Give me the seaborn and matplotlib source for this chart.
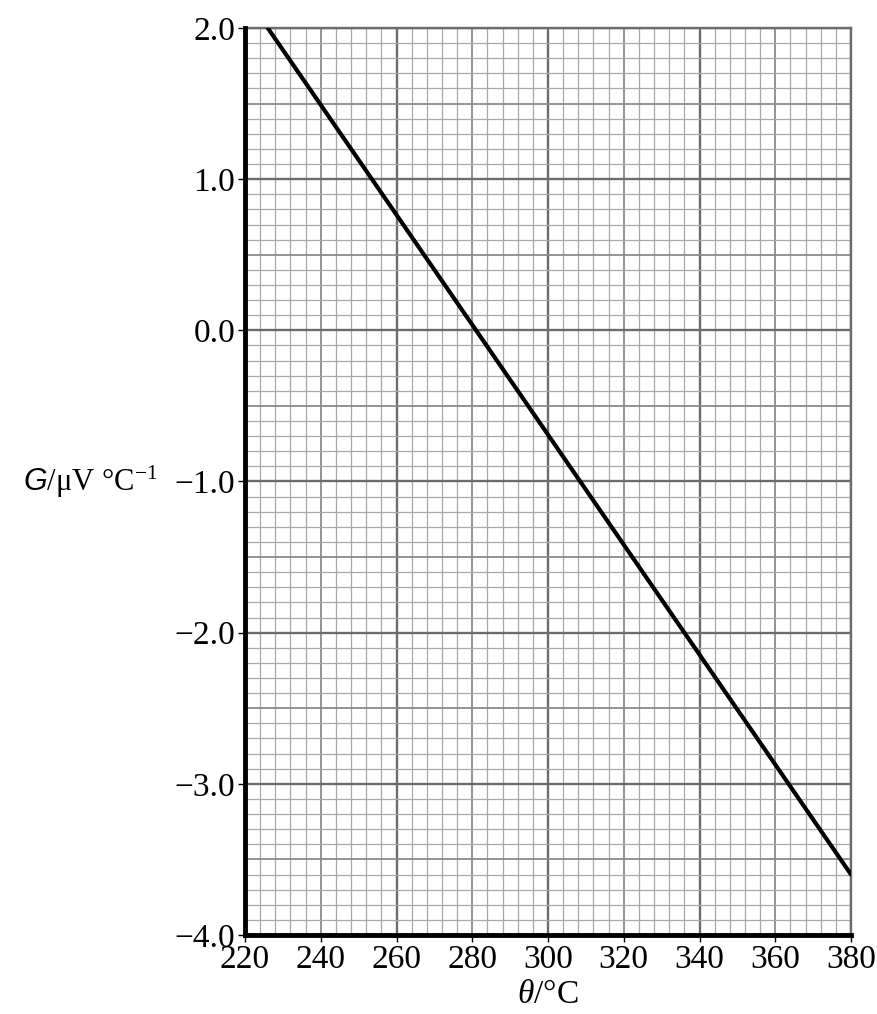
import numpy as np
import pandas as pd
import seaborn as sns
import matplotlib.pyplot as plt
from matplotlib.ticker import FuncFormatter

# Data (straight line)
theta = [226, 380]
G = [2.0, -3.6]

x_ticks = [220, 240, 260, 280, 300, 320, 340, 360, 380]
y_ticks = [-4.0, -3.0, -2.0, -1.0, 0.0, 1.0, 2.0]

sns.set_style("white")
plt.rcParams['font.family'] = ['Liberation Serif', 'DejaVu Serif']
plt.rcParams['mathtext.fontset'] = 'custom'
plt.rcParams['mathtext.rm'] = 'Liberation Serif'
plt.rcParams['mathtext.it'] = 'Liberation Serif:italic'
plt.rcParams['mathtext.sf'] = 'Liberation Sans:italic'
plt.rcParams['text.color'] = 'black'
plt.rcParams['xtick.color'] = 'black'
plt.rcParams['ytick.color'] = 'black'
plt.rcParams['axes.labelcolor'] = 'black'

df = pd.DataFrame({"theta": theta, "G": G})

fig = plt.figure(figsize=(8.77, 10.14), dpi=100)
ax = fig.add_axes([0.2794, 0.0779, 0.6910, 0.8945])

# graph paper grid: minor, mid and major lines
minor_col, mid_col, major_col = '#a8a8a8', '#8a8a8a', '#6c6c6c'
for xv in np.arange(220, 381, 4):
    if (xv - 220) % 40 == 0:
        c, lw = major_col, 1.7
    elif (xv - 220) % 20 == 0:
        c, lw = mid_col, 1.3
    else:
        c, lw = minor_col, 0.9
    ax.axvline(xv, color=c, lw=lw, zorder=1)
for yv in np.round(np.arange(-4.0, 2.01, 0.1), 1):
    if abs(yv - round(yv)) < 1e-6:
        c, lw = major_col, 1.7
    elif abs(yv * 2 - round(yv * 2)) < 1e-6:
        c, lw = mid_col, 1.3
    else:
        c, lw = minor_col, 0.9
    ax.axhline(yv, color=c, lw=lw, zorder=1)

sns.lineplot(data=df, x="theta", y="G", color='black', linewidth=3.0, ax=ax, zorder=3)

ax.set_xlim(220, 380)
ax.set_ylim(-4.0, 2.0)
ax.set_xticks(x_ticks)
ax.set_yticks(y_ticks)
ax.yaxis.set_major_formatter(FuncFormatter(lambda v, p: f"{v:.1f}".replace('-', '\u2212')))
ax.tick_params(axis='both', which='major', direction='out', length=5, width=1,
               color='black', labelcolor='black', labelsize=24, pad=2,
               bottom=True, left=True)

for side in ['left', 'bottom']:
    ax.spines[side].set_linewidth(3.5)
    ax.spines[side].set_color('black')
    ax.spines[side].set_zorder(4)
for side in ['top', 'right']:
    ax.spines[side].set_linewidth(1.7)
    ax.spines[side].set_color(major_col)

ax.set_xlabel(r"$\theta$/°C", fontsize=24, color='black')
ax.xaxis.set_label_coords(0.5, -0.066)
ax.xaxis.label.set_va('center')
ax.set_ylabel(r"$\mathsf{G}$/μV °C$^{-1}$", fontsize=22, rotation=0, color='black')
ax.yaxis.set_label_coords(-0.256, 0.5)
ax.yaxis.label.set_va('center')
ax.yaxis.label.set_ha('center')

plt.savefig("out.png", dpi=100)
